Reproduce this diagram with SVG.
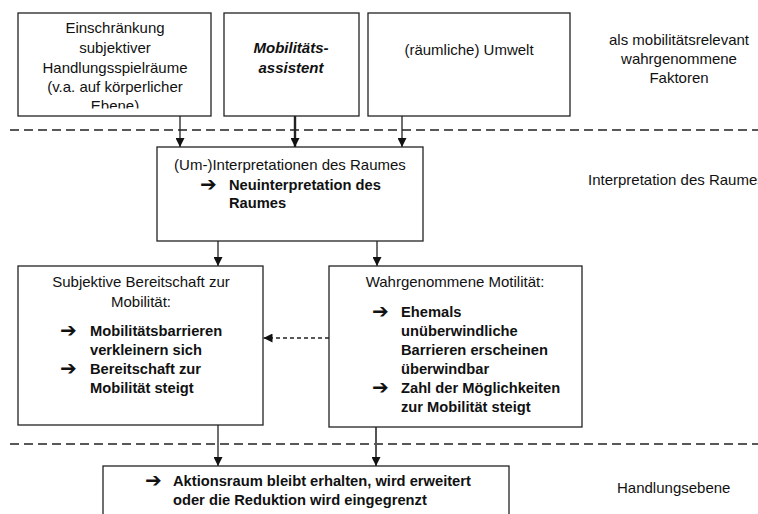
<svg xmlns="http://www.w3.org/2000/svg" width="758" height="514" viewBox="0 0 758 514">
<style>
.box{fill:#fff;stroke:#222;stroke-width:1.3}
.t{font-family:"Liberation Sans",Arial,sans-serif;font-size:15px;fill:#111}
.c{text-anchor:middle}
.b{font-weight:bold;font-size:14.7px}
.bi{font-weight:bold;font-style:italic}
.ar{font-family:"DejaVu Sans",sans-serif;font-size:20px;font-weight:bold;fill:#111}
.sep{stroke:#222;stroke-width:1.4;stroke-dasharray:9 5;fill:none}
.con{stroke:#222;stroke-width:1.3;fill:none}
</style>
<defs>
<marker id="ah" viewBox="0 0 10 10" refX="10" refY="5" markerWidth="9" markerHeight="9" markerUnits="userSpaceOnUse" orient="auto">
<path d="M0,0 L10,5 L0,10 z" fill="#111"/>
</marker>
<clipPath id="clip1"><rect x="18" y="13" width="193" height="95.5"/></clipPath>
</defs>

<g id="separators">
<line class="sep" x1="10" y1="130" x2="758" y2="130"/>
<line class="sep" x1="10" y1="444" x2="758" y2="444"/>
</g>

<g id="connectors">
<line class="con" x1="180" y1="116" x2="180" y2="147" marker-end="url(#ah)"/>
<line class="con" x1="295" y1="116" x2="295" y2="147" style="stroke-width:2.4" marker-end="url(#ah)"/>
<line class="con" x1="402" y1="116" x2="402" y2="147" marker-end="url(#ah)"/>
<line class="con" x1="218" y1="241" x2="218" y2="266" marker-end="url(#ah)"/>
<line class="con" x1="377" y1="241" x2="377" y2="266" marker-end="url(#ah)"/>
<line class="con" x1="329" y1="338" x2="263.5" y2="338" style="stroke-dasharray:4 3" marker-end="url(#ah)"/>
<line class="con" x1="218" y1="425" x2="218" y2="466" marker-end="url(#ah)"/>
<line class="con" x1="376" y1="427" x2="376" y2="466" style="stroke:#555;stroke-width:2" marker-end="url(#ah)"/>
</g>

<g id="n1">
<rect class="box" x="18" y="13" width="193" height="103"/>
<g clip-path="url(#clip1)">
<text class="t c" x="115" y="33">Einschränkung</text>
<text class="t c" x="115" y="53">subjektiver</text>
<text class="t c" x="115" y="73">Handlungsspielräume</text>
<text class="t c" x="115" y="92">(v.a. auf körperlicher</text>
<text class="t c" x="115" y="111">Ebene)</text>
</g>
</g>

<g id="n2">
<rect class="box" x="224" y="13" width="135" height="103"/>
<text class="t c bi" x="291" y="53">Mobilitäts-</text>
<text class="t c bi" x="291" y="73">assistent</text>
</g>

<g id="n3">
<rect class="box" x="368" y="13" width="202" height="103"/>
<text class="t c" x="469" y="55">(räumliche) Umwelt</text>
</g>

<g id="l1">
<text class="t c" x="679" y="45">als mobilitätsrelevant</text>
<text class="t c" x="679" y="64">wahrgenommene</text>
<text class="t c" x="679" y="83">Faktoren</text>
</g>

<g id="n4">
<rect class="box" x="157" y="147" width="266" height="94"/>
<text class="t c" x="290" y="170">(Um-)Interpretationen des Raumes</text>
<text class="ar" x="200" y="191">➔</text>
<text class="t b" x="229" y="190">Neuinterpretation des</text>
<text class="t b" x="229" y="208">Raumes</text>
</g>

<g id="l2">
<text class="t" x="588" y="185">Interpretation des Raumes</text>
</g>

<g id="n5">
<rect class="box" x="18" y="266" width="245" height="159"/>
<text class="t c" x="141" y="287">Subjektive Bereitschaft zur</text>
<text class="t c" x="141" y="307">Mobilität:</text>
<text class="ar" x="60" y="337">➔</text>
<text class="t b" x="90" y="336">Mobilitätsbarrieren</text>
<text class="t b" x="90" y="355">verkleinern sich</text>
<text class="ar" x="60" y="375">➔</text>
<text class="t b" x="90" y="374">Bereitschaft zur</text>
<text class="t b" x="90" y="393">Mobilität steigt</text>
</g>

<g id="n6">
<rect class="box" x="329" y="266" width="253" height="161"/>
<text class="t c" x="455" y="287">Wahrgenommene Motilität:</text>
<text class="ar" x="372" y="318">➔</text>
<text class="t b" x="401" y="317">Ehemals</text>
<text class="t b" x="401" y="336">unüberwindliche</text>
<text class="t b" x="401" y="355">Barrieren erscheinen</text>
<text class="t b" x="401" y="374">überwindbar</text>
<text class="ar" x="372" y="394">➔</text>
<text class="t b" x="401" y="393">Zahl der Möglichkeiten</text>
<text class="t b" x="401" y="412">zur Mobilität steigt</text>
</g>

<g id="n7">
<rect class="box" x="103" y="466" width="406" height="60"/>
<text class="ar" x="145" y="487">➔</text>
<text class="t b" x="173" y="486">Aktionsraum bleibt erhalten, wird erweitert</text>
<text class="t b" x="173" y="505">oder die Reduktion wird eingegrenzt</text>
</g>

<g id="l3">
<text class="t" x="617" y="493">Handlungsebene</text>
</g>
</svg>
